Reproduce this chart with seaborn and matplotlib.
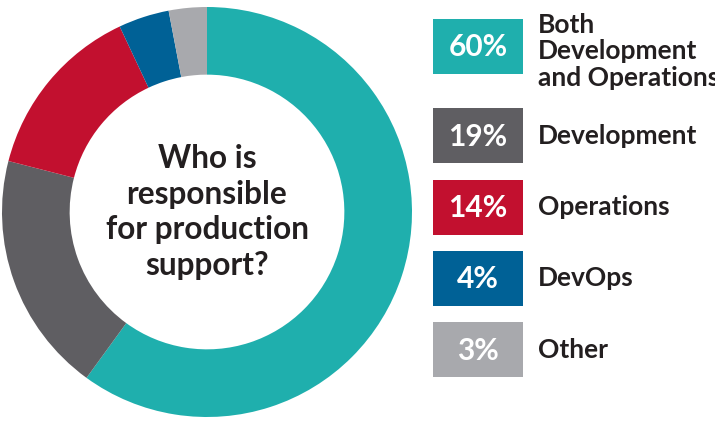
import matplotlib
matplotlib.use("Agg")
import matplotlib.pyplot as plt
import seaborn as sns
from matplotlib.patches import Rectangle

# Data
categories = ["Both\nDevelopment\nand Operations", "Development", "Operations", "DevOps", "Other"]
shares = [60, 19, 14, 4, 3]
pct_labels = ["60%", "19%", "14%", "4%", "3%"]
colors = ["#1FAFAD", "#5F5E62", "#C2102F", "#006196", "#A8A9AD"]
center_text = "Who is\nresponsible\nfor production\nsupport?"

sns.set_theme(style="white")
plt.rcParams['font.family'] = ['Lato', 'DejaVu Sans']
text_color = "#231F20"

W, H = 715, 424
fig = plt.figure(figsize=(W / 100, H / 100), dpi=100)

# Donut
ax = fig.add_axes([(207 - 205) / W, 1 - (212 + 205) / H, 410 / W, 410 / H])
ax.pie(shares, colors=sns.color_palette(colors), startangle=90, counterclock=False,
       radius=1.0, wedgeprops=dict(width=0.33, edgecolor="none"))
ax.set_xlim(-1, 1)
ax.set_ylim(-1, 1)
ax.set_aspect("equal")
ax.axis("off")
ax.text(0, 0.0, center_text, ha="center", va="center", fontsize=22.8,
        fontweight="bold", color=text_color, linespacing=1.27)

# Legend
lax = fig.add_axes([0, 0, 1, 1])
lax.set_xlim(0, W)
lax.set_ylim(H, 0)
lax.axis("off")
lax.patch.set_alpha(0)

box_x, box_w, box_h = 433, 90, 55
for i, (lab, pct, col) in enumerate(zip(categories, pct_labels, colors)):
    top = 19 + i * 71.3 + (18 if i > 0 else 0)
    lax.add_patch(Rectangle((box_x, top), box_w, box_h, facecolor=col, edgecolor="none"))
    lax.text(box_x + box_w / 2, top + box_h / 2 + 1, pct, ha="center", va="center",
             fontsize=21.5, fontweight="bold", color="white")
    if "\n" in lab:
        lax.text(538, 13, lab, ha="left", va="top", fontsize=19,
                 fontweight="bold", color=text_color, linespacing=1.12)
    else:
        lax.text(538, top + box_h / 2, lab, ha="left", va="center", fontsize=19,
                 fontweight="bold", color=text_color)

fig.savefig("out.png", dpi=100)
